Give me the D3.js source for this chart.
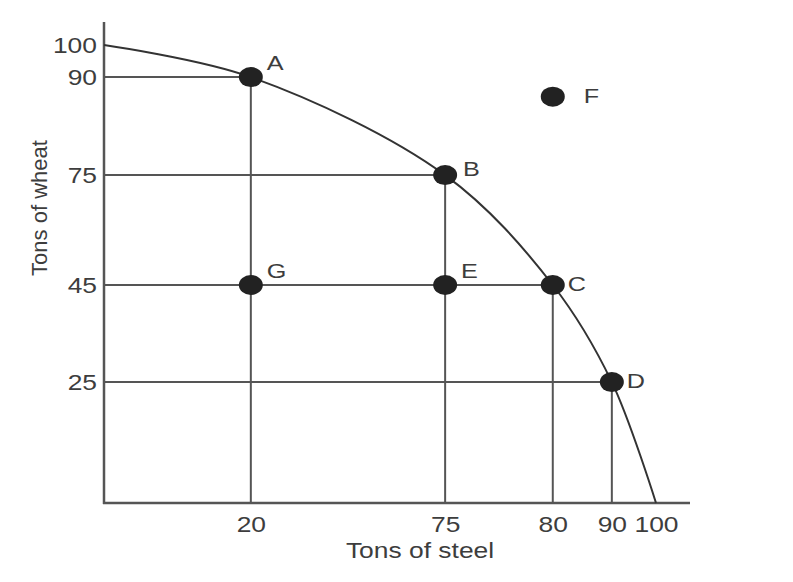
<!DOCTYPE html>
<html>
<head>
<meta charset="utf-8">
<script src="https://cdn.jsdelivr.net/npm/d3@7"></script>
<style>
    html, body { margin: 0; padding: 0; background: #fff; overflow: hidden; }
    #chart svg { display: block; }
    svg text { font-family: "Liberation Sans", Arial, sans-serif; fill: #3d3d3d; }
</style>
</head>
<body>
<div id="chart"></div>
<script>
// 生产可能性边界 (PPF)

const xTicks = [20, 75, 80, 90, 100];     // Tons of steel
const yTicks = [25, 45, 75, 90, 100];     // Tons of wheat

// 边界上的点
const frontierNames = ['A', 'B', 'C', 'D'];
const frontierSteel = [20, 75, 80, 90];
const frontierWheat = [90, 75, 45, 25];

// 边界曲线（含两端截距）
const curveSteel = [0, 20, 75, 80, 90, 100];
const curveWheat = [100, 90, 75, 45, 25, 0];

// 所有标注点
const pointNames = ['A', 'B', 'C', 'D', 'E', 'F', 'G'];
const pointSteel = [20, 75, 80, 90, 75, 80, 20];
const pointWheat = [90, 75, 45, 25, 45, 87, 45];

// 标签位置: 右上 / 右侧
const labelPlace = { A: 'ne', B: 'ene', C: 'e', D: 'e', E: 'ne', F: 'far', G: 'ne' };

const width = 793;
const height = 582;
const margin = { top: 45, right: 137, bottom: 79, left: 104 };
const innerWidth = width - margin.left - margin.right;
const innerHeight = height - margin.top - margin.bottom;
const SX = 1.2; // 原图横向拉伸

// 示意图坐标轴不是等距的, 用分段线性比例尺
const xScale = d3.scaleLinear()
    .domain([0, 20, 75, 80, 90, 100])
    .range([0, 0.266, 0.618, 0.813, 0.92, 1].map(f => f * innerWidth));

const yScale = d3.scaleLinear()
    .domain([0, 25, 45, 75, 90, 100])
    .range([0, 0.264, 0.476, 0.716, 0.93, 1].map(f => innerHeight * (1 - f)));

// 横向拉伸文字
function stretch(sel) {
    sel.each(function () {
        const w = this.getComputedTextLength();
        d3.select(this)
            .attr('textLength', w * SX)
            .attr('lengthAdjust', 'spacingAndGlyphs');
    });
}

const svg = d3.select('#chart')
    .append('svg')
    .attr('width', width)
    .attr('height', height);

const g = svg.append('g')
    .attr('transform', `translate(${margin.left},${margin.top})`);

// 参考线
frontierNames.forEach((name, i) => {
    const px = xScale(frontierSteel[i]);
    const py = yScale(frontierWheat[i]);
    g.append('line')
        .attr('x1', 0).attr('x2', px)
        .attr('y1', py).attr('y2', py)
        .attr('stroke', '#555').attr('stroke-width', 2);
    g.append('line')
        .attr('x1', px).attr('x2', px)
        .attr('y1', innerHeight).attr('y2', py)
        .attr('stroke', '#555').attr('stroke-width', 2);
});

// 坐标轴线
g.append('line')
    .attr('x1', 0).attr('x2', 0)
    .attr('y1', -23).attr('y2', innerHeight + 1)
    .attr('stroke', '#555').attr('stroke-width', 2.5);

g.append('line')
    .attr('x1', -1).attr('x2', innerWidth + 34)
    .attr('y1', innerHeight).attr('y2', innerHeight)
    .attr('stroke', '#555').attr('stroke-width', 2.5);

// 刻度
const xAxis = g.append('g')
    .attr('transform', `translate(0,${innerHeight})`)
    .call(d3.axisBottom(xScale).tickValues(xTicks).tickSize(0).tickPadding(13));

const yAxis = g.append('g')
    .call(d3.axisLeft(yScale).tickValues(yTicks).tickSize(0).tickPadding(7));

[xAxis, yAxis].forEach(ax => {
    ax.select('.domain').remove();
    ax.selectAll('text')
        .attr('font-size', 22)
        .attr('fill', '#3d3d3d')
        .attr('font-family', '"Liberation Sans", Arial, sans-serif')
        .call(stretch);
});

// 边界曲线
const line = d3.line()
    .x(i => xScale(curveSteel[i]))
    .y(i => yScale(curveWheat[i]))
    .curve(d3.curveCatmullRom);

g.append('path')
    .attr('d', line(d3.range(curveSteel.length)))
    .attr('fill', 'none')
    .attr('stroke', '#333')
    .attr('stroke-width', 2);

// 点
g.selectAll('.pt')
    .data(pointNames)
    .enter()
    .append('ellipse')
    .attr('class', 'pt')
    .attr('cx', (d, i) => xScale(pointSteel[i]))
    .attr('cy', (d, i) => yScale(pointWheat[i]))
    .attr('rx', 12)
    .attr('ry', 10)
    .attr('fill', '#222');

// 点标签
const offsets = {
    ne: [16, -7],
    ene: [18, 1],
    e: [15, 6],
    far: [31, 6]
};

g.selectAll('.lbl')
    .data(pointNames)
    .enter()
    .append('text')
    .attr('class', 'lbl')
    .attr('x', (d, i) => xScale(pointSteel[i]) + offsets[labelPlace[d]][0])
    .attr('y', (d, i) => yScale(pointWheat[i]) + offsets[labelPlace[d]][1])
    .attr('font-size', 21)
    .text(d => d)
    .call(stretch);

// 轴标题
svg.append('text')
    .attr('x', 420)
    .attr('y', 558)
    .attr('text-anchor', 'middle')
    .attr('font-size', 22)
    .text('Tons of steel')
    .call(stretch);

svg.append('text')
    .attr('transform', 'translate(47,208) rotate(-90)')
    .attr('text-anchor', 'middle')
    .attr('font-size', 22)
    .text('Tons of wheat');
</script>
</body>
</html>
